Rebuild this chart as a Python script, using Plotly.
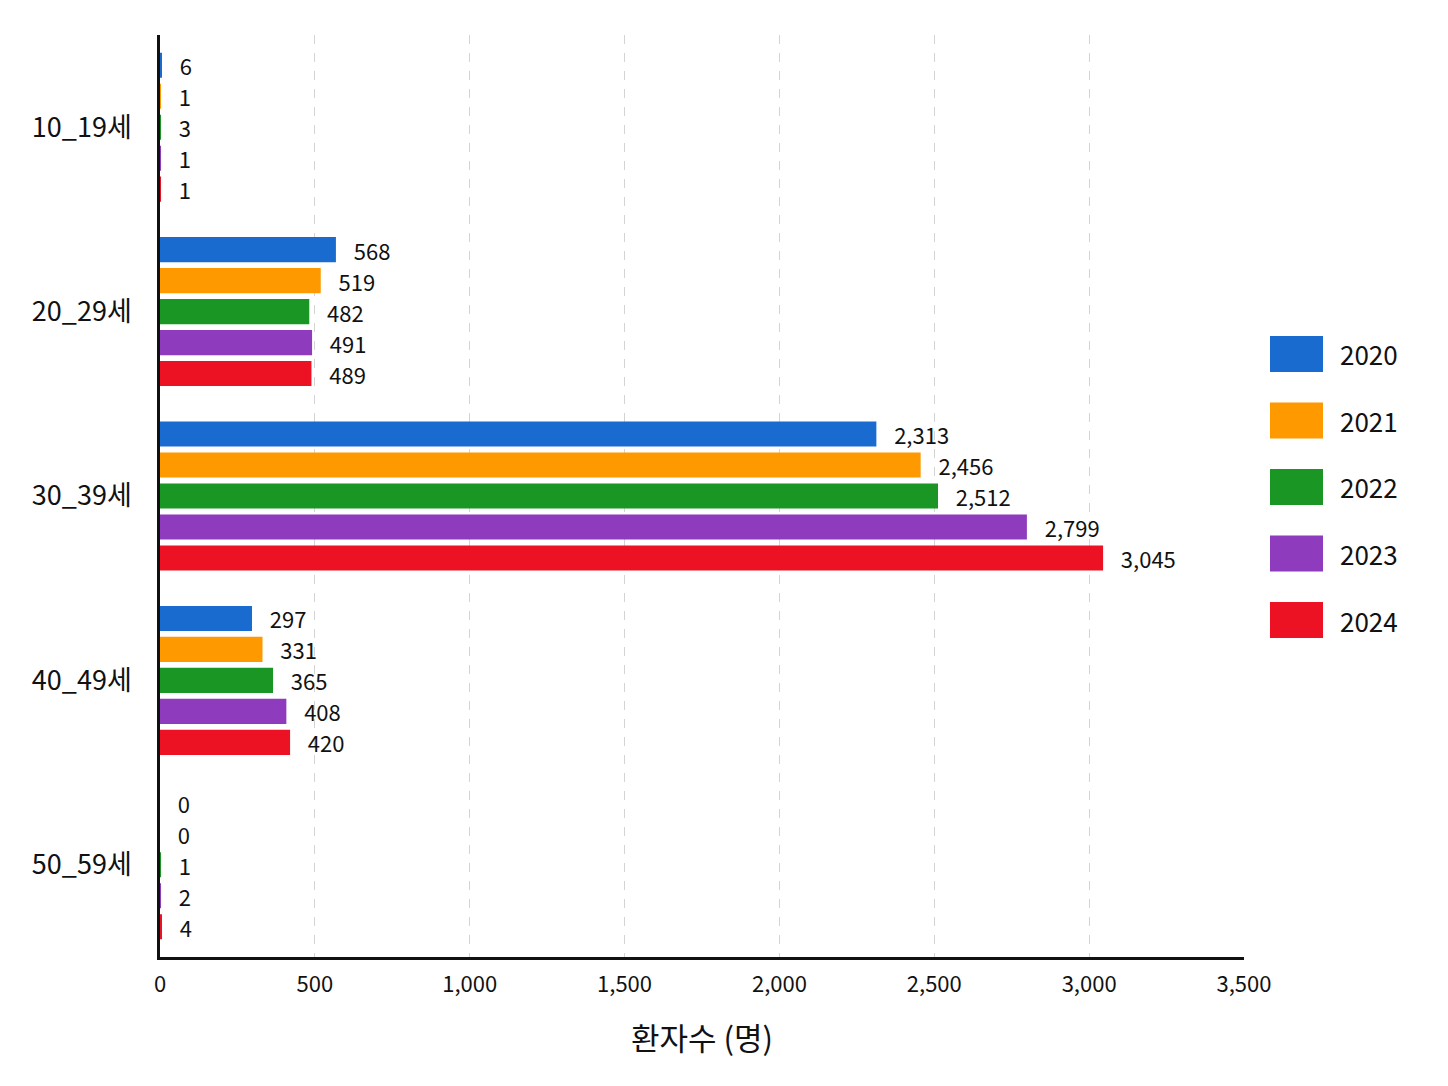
import plotly.graph_objects as go

categories = ["10_19세", "20_29세", "30_39세", "40_49세", "50_59세"]
years = ["2020", "2021", "2022", "2023", "2024"]
v2020 = [6, 568, 2313, 297, 0]
v2021 = [1, 519, 2456, 331, 0]
v2022 = [3, 482, 2512, 365, 1]
v2023 = [1, 491, 2799, 408, 2]
v2024 = [1, 489, 3045, 420, 4]
series = [v2020, v2021, v2022, v2023, v2024]
colors = ["#1a6bd0", "#ff9900", "#1a9624", "#8e3bbd", "#ec1224"]
x_ticks = [0, 500, 1000, 1500, 2000, 2500, 3000, 3500]
x_title = "환자수 (명)"

FONT = "Noto Sans CJK KR, Noto Sans, sans-serif"
W, H = 1448, 1086
OFF = 8  # page body margin
ML, MR, MT, MB = 160 - OFF, 204 + OFF, 35 - OFF, 129 + OFF

fig = go.Figure()
for yr, vals, col in zip(years, series, colors):
    fig.add_trace(go.Bar(
        y=categories, x=vals, name=yr, orientation="h",
        marker=dict(color=col, line=dict(width=0)),
        text=vals, texttemplate="   %{x:,}", textposition="outside",
        constraintext="none",
        textfont=dict(family=FONT, size=22, color="#111111"),
        cliponaxis=False, showlegend=False,
    ))

# custom legend (large swatches); positions given in screen pixels
pw = W - ML - MR
ph = H - MT - MB
def px2x(px):
    return (px - OFF - ML) / pw
def py2y(py):
    return (H - MB - (py - OFF)) / ph

leg_top = 354
leg_step = 66.5
for i, (yr, col) in enumerate(zip(years, colors)):
    cy = leg_top + i * leg_step
    fig.add_shape(type="rect", xref="paper", yref="paper",
                  x0=px2x(1270), x1=px2x(1323), y0=py2y(cy + 18), y1=py2y(cy - 18),
                  fillcolor=col, line=dict(width=0))
    fig.add_annotation(xref="paper", yref="paper", x=px2x(1338), y=py2y(cy),
                       text=yr, showarrow=False, xanchor="left", yanchor="middle",
                       font=dict(family=FONT, size=26, color="#111111"))

fig.update_layout(
    width=W, height=H,
    margin=dict(l=ML, r=MR, t=MT, b=MB),
    paper_bgcolor="#ffffff", plot_bgcolor="#ffffff",
    barmode="group", bargap=0.16, bargroupgap=0.19,
    uniformtext=dict(mode=False),
    font=dict(family=FONT, size=22, color="#111111"),
    xaxis=dict(
        range=[0, 3500], tickvals=x_ticks, tickformat=",",
        showgrid=True, gridcolor="#d4d4d4", griddash="dash", gridwidth=1,
        showline=True, linecolor="#111111", linewidth=2.5,
        zeroline=False, ticks="", ticklen=0, ticklabelstandoff=6,
        tickfont=dict(family=FONT, size=22, color="#111111"),
        title=dict(text=x_title, font=dict(family=FONT, size=31, color="#111111"), standoff=32),
    ),
    yaxis=dict(
        autorange="reversed", showgrid=False,
        showline=True, linecolor="#111111", linewidth=2.5,
        ticks="", ticklen=0, ticksuffix="  ", ticklabelstandoff=8,
        tickfont=dict(family=FONT, size=27, color="#111111"),
    ),
)

fig.write_html("out.html")
